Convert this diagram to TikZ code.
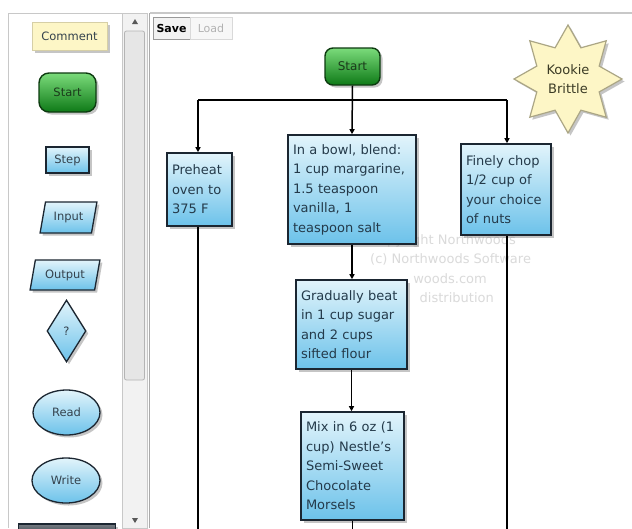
\documentclass[tikz,border=0pt]{standalone}
\usepackage{fontspec}
\setmainfont{DejaVu Sans}
\usetikzlibrary{shapes.geometric,shadows,arrows.meta}

\definecolor{boxline}{HTML}{1B2631}
\definecolor{boxtop}{HTML}{E2F4FB}
\definecolor{boxbot}{HTML}{6CC2EA}
\definecolor{boxtext}{HTML}{243A4A}
\definecolor{greentop}{HTML}{7BDB7B}
\definecolor{greenbot}{HTML}{0E7A17}
\definecolor{greenline}{HTML}{0D3B10}
\definecolor{greentext}{HTML}{1B3B1B}
\definecolor{cream}{HTML}{FDF6C6}
\definecolor{creamline}{HTML}{D6CFA6}
\definecolor{startxt}{HTML}{3B3B25}
\definecolor{paltext}{HTML}{34424D}
\definecolor{chrome}{HTML}{C8C8C8}
\definecolor{track}{HTML}{F2F2F2}
\definecolor{thumb}{HTML}{E6E6E6}
\definecolor{mark}{HTML}{DADADA}

\begin{document}
\begin{tikzpicture}[x=1pt,y=-1pt,
  every node/.style={font=\fontsize{13}{19.5}\selectfont},
  shadowed/.style={drop shadow={opacity=0.45,shadow xshift=2.5pt,shadow yshift=-2.5pt}},
  stepbox/.style={rectangle,draw=boxline,line width=1.6pt,top color=boxtop,bottom color=boxbot,
    text=boxtext,align=left,inner sep=5pt,shadowed},
  startbox/.style={rectangle,rounded corners=8pt,draw=greenline,line width=1.4pt,
    top color=greentop,bottom color=greenbot,text=greentext,inner sep=0pt,shadowed},
  palbox/.style={draw=boxline,line width=1.3pt,top color=boxtop,bottom color=boxbot,
    text=paltext,inner sep=0pt,font=\fontsize{11.5}{14}\selectfont,shadowed},
  flow/.style={line width=1.5pt,black},
  arrow/.style={flow,-{Triangle[length=5pt,width=5pt]}},
  btn/.style={rectangle,inner sep=0pt,font=\fontsize{11}{13}\selectfont},
  wmark/.style={text=mark,inner sep=0pt}
]
\useasboundingbox (0,0) rectangle (632,528);
\clip (0,0) rectangle (632,528);
\fill[white] (0,0) rectangle (632,528);

% ---------- palette panel and scroll bar ----------
\draw[chrome,line width=1pt] (8,528) -- (8,13) -- (122,13);
\filldraw[fill=track,draw=chrome,line width=0.8pt] (122,13) rectangle (147,528);
\filldraw[fill=thumb,draw=chrome!90!black,line width=0.8pt,rounded corners=2pt] (124.5,31) rectangle (144.5,380);
\fill[black!65] (135,19) -- (138,24) -- (132,24) -- cycle;
\fill[black!65] (135,523) -- (138,518) -- (132,518) -- cycle;
\draw[chrome!85!black,line width=1.2pt] (149.5,13) -- (149.5,528);

% ---------- canvas frame and buttons ----------
\draw[chrome,line width=1.6pt] (150,13) -- (632,13);
\node[btn,draw=black!40,fill=black!5,minimum width=37pt,minimum height=22pt,
      font=\fontsize{11}{13}\bfseries] (save) at (171.5,28) {Save};
\node[btn,draw=black!15,fill=black!3,text=black!30,minimum width=42pt,minimum height=22pt] (load) at (211,28) {Load};

% ---------- palette shapes ----------
\node[rectangle,draw=creamline,line width=0.9pt,fill=cream,text=paltext,minimum width=75pt,
      minimum height=28pt,inner sep=0pt,font=\fontsize{11.5}{14}\selectfont,shadowed] (pcomment) at (69.5,36) {Comment};
\node[startbox,minimum width=57pt,minimum height=39pt,rounded corners=10pt,
      font=\fontsize{11.5}{14}\selectfont] (pstart) at (67.5,92.5) {Start};
\node[palbox,rectangle,minimum width=43pt,minimum height=26pt] (pstep) at (67.5,160) {Step};
\node[palbox,trapezium,trapezium stretches=true,trapezium left angle=72,trapezium right angle=108,
      minimum width=57pt,minimum height=31pt] (pinput) at (68.5,217.5) {Input};
\node[palbox,trapezium,trapezium stretches=true,trapezium left angle=72,trapezium right angle=108,
      minimum width=70pt,minimum height=30pt] (poutput) at (65,275) {Output};
\node[palbox,diamond,minimum width=39pt,minimum height=62pt] (pdecide) at (66.5,331) {?};
\node[palbox,ellipse,minimum width=67pt,minimum height=45pt] (pread) at (66.5,412.5) {Read};
\node[palbox,ellipse,minimum width=68pt,minimum height=45pt] (pwrite) at (66,480.5) {Write};
\node[palbox,rectangle,minimum width=97pt,minimum height=16pt,top color=boxline!60,bottom color=boxline] (pnext) at (67,532) {};

% ---------- faint watermark lines behind the flow ----------
\node[wmark,anchor=north west] (wm1) at (370,234) {Copyright Northwoods};
\node[wmark,anchor=north west] (wm2) at (370,253.5) {(c) Northwoods Software};
\node[wmark,anchor=north east] (wm3) at (487,273) {woods.com};
\node[wmark,anchor=north east] (wm4) at (494,292.5) {distribution};

% ---------- recipe flow ----------
\node[startbox,minimum width=55pt,minimum height=37pt,font=\fontsize{12}{14}\selectfont] (start) at (352.5,66.5) {Start};

\node[star,star points=8,star point ratio=1.6,minimum size=108pt,inner sep=0pt,
      fill=cream,draw=creamline!80!black,line width=1.2pt,text=startxt,align=center,shadowed] (kookie) at (568,79)
  {Kookie\\Brittle};

\node[stepbox,minimum width=65pt,minimum height=73pt,text width=55pt] (preheat) at (199.5,189.5)
  {Preheat\\oven to\\375 F};
\node[stepbox,minimum width=128pt,minimum height=109pt,text width=118pt] (blend) at (352,189.5)
  {In a bowl, blend:\\1 cup margarine,\\1.5 teaspoon\\vanilla, 1\\teaspoon salt};
\node[stepbox,minimum width=90pt,minimum height=91pt,text width=80pt] (chop) at (506,189.5)
  {Finely chop\\1/2 cup of\\your choice\\of nuts};
\node[stepbox,minimum width=111pt,minimum height=89pt,text width=101pt] (beat) at (351.5,324.5)
  {Gradually beat\\in 1 cup sugar\\and 2 cups\\sifted flour};
\node[stepbox,minimum width=103pt,minimum height=108pt,text width=93pt] (mix) at (352.5,466)
  {Mix in 6 oz (1\\cup) Nestle's\\Semi-Sweet\\Chocolate\\Morsels};

% branch bar and its ends
\coordinate (barL) at (198,100);
\coordinate (barR) at (507,100);
\coordinate (leftEnd) at (198,530);
\coordinate (rightEnd) at (507,530);
\coordinate (midEnd) at (352.5,530);

\draw[flow] (barL) -- (barR);
\draw[arrow] (start.south) -- (blend.north);
\draw[arrow] (barL) -- (barL |- preheat.north);
\draw[arrow] (barR) -- (barR |- chop.north);
\draw[arrow] (blend.south) -- (beat.north -| blend.south);
\draw[arrow] (beat.south) -- (mix.north -| beat.south);
\draw[flow] (barL |- preheat.south) -- (leftEnd);
\draw[flow] (barR |- chop.south) -- (rightEnd);
\draw[flow] (mix.south) -- (midEnd);
\end{tikzpicture}
\end{document}
